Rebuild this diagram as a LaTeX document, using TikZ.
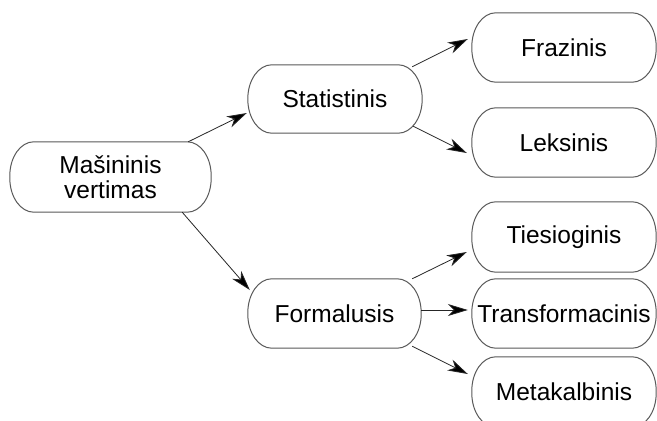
\documentclass[tikz,border=0pt]{standalone}
\usepackage{fontspec}
\setmainfont{Liberation Sans}
\usetikzlibrary{arrows.meta,calc}
\tikzset{
  box/.style={draw=none,inner sep=0pt,align=center,font=\fontsize{24.5}{25}\selectfont},
  conn/.style={draw=black!85,line width=0.8pt,-{Stealth[length=20pt,width=12pt,inset=6pt,fill=black]}},
  outline/.style={draw=black!65,line width=1pt}
}
\newcommand\pillshape[1]{%
  \path[outline] ([xshift=24pt]#1.north west) -- ([xshift=-24pt]#1.north east)
    arc[start angle=90,end angle=0,x radius=24pt,y radius=34pt]
    -- ([yshift=34pt]#1.south east)
    arc[start angle=0,end angle=-90,x radius=24pt,y radius=34pt]
    -- ([xshift=24pt]#1.south west)
    arc[start angle=270,end angle=180,x radius=24pt,y radius=34pt]
    -- ([yshift=-34pt]#1.north west)
    arc[start angle=180,end angle=90,x radius=24pt,y radius=34pt]
    -- cycle;}
\begin{document}
\begin{tikzpicture}[x=1pt,y=-1pt]
\clip (0,0) rectangle (657,421);
\fill[white] (0,0) rectangle (657,421);
\node[box,minimum width=201pt,minimum height=70pt] (mv) at (110.5,177) {Mašininis\\vertimas};
\node[box,minimum width=174pt,minimum height=68pt] (stat) at (335,99) {Statistinis};
\node[box,minimum width=173pt,minimum height=69pt] (form) at (334.5,313.5) {Formalusis};
\node[box,minimum width=184pt,minimum height=69pt] (fraz) at (564,47.5) {Frazinis};
\node[box,minimum width=184pt,minimum height=69pt] (leks) at (564,142.5) {Leksinis};
\node[box,minimum width=184pt,minimum height=70pt] (ties) at (564,237) {Tiesioginis};
\node[box,minimum width=184pt,minimum height=69pt] (trans) at (564,313.5) {Transformacinis};
\node[box,minimum width=184pt,minimum height=70pt] (meta) at (564,392) {Metakalbinis};
\foreach \n in {mv,stat,form,fraz,leks,ties,trans,meta}{\pillshape{\n}}
\path[conn] ($(mv.north east)+(-23,0)$) -- ($(stat.west)+(-1,14)$);
\path[conn] ($(mv.south east)+(-29,0)$) -- ($(form.west)+(2,-23.5)$);
\path[conn] ($(stat.north east)+(-10,2)$) -- ($(fraz.west)+(-4,-8.5)$);
\path[conn] ($(stat.south east)+(-9,-7)$) -- ($(leks.west)+(-5,10.5)$);
\path[conn] ($(form.north east)+(-9,0)$) -- ($(ties.west)+(-5,15)$);
\path[conn] ($(form.east)+(0,-3.5)$) -- ($(trans.west)+(-4,-3.5)$);
\path[conn] ($(form.south east)+(-9,-2)$) -- ($(meta.west)+(-4,-18)$);
\end{tikzpicture}
\end{document}
